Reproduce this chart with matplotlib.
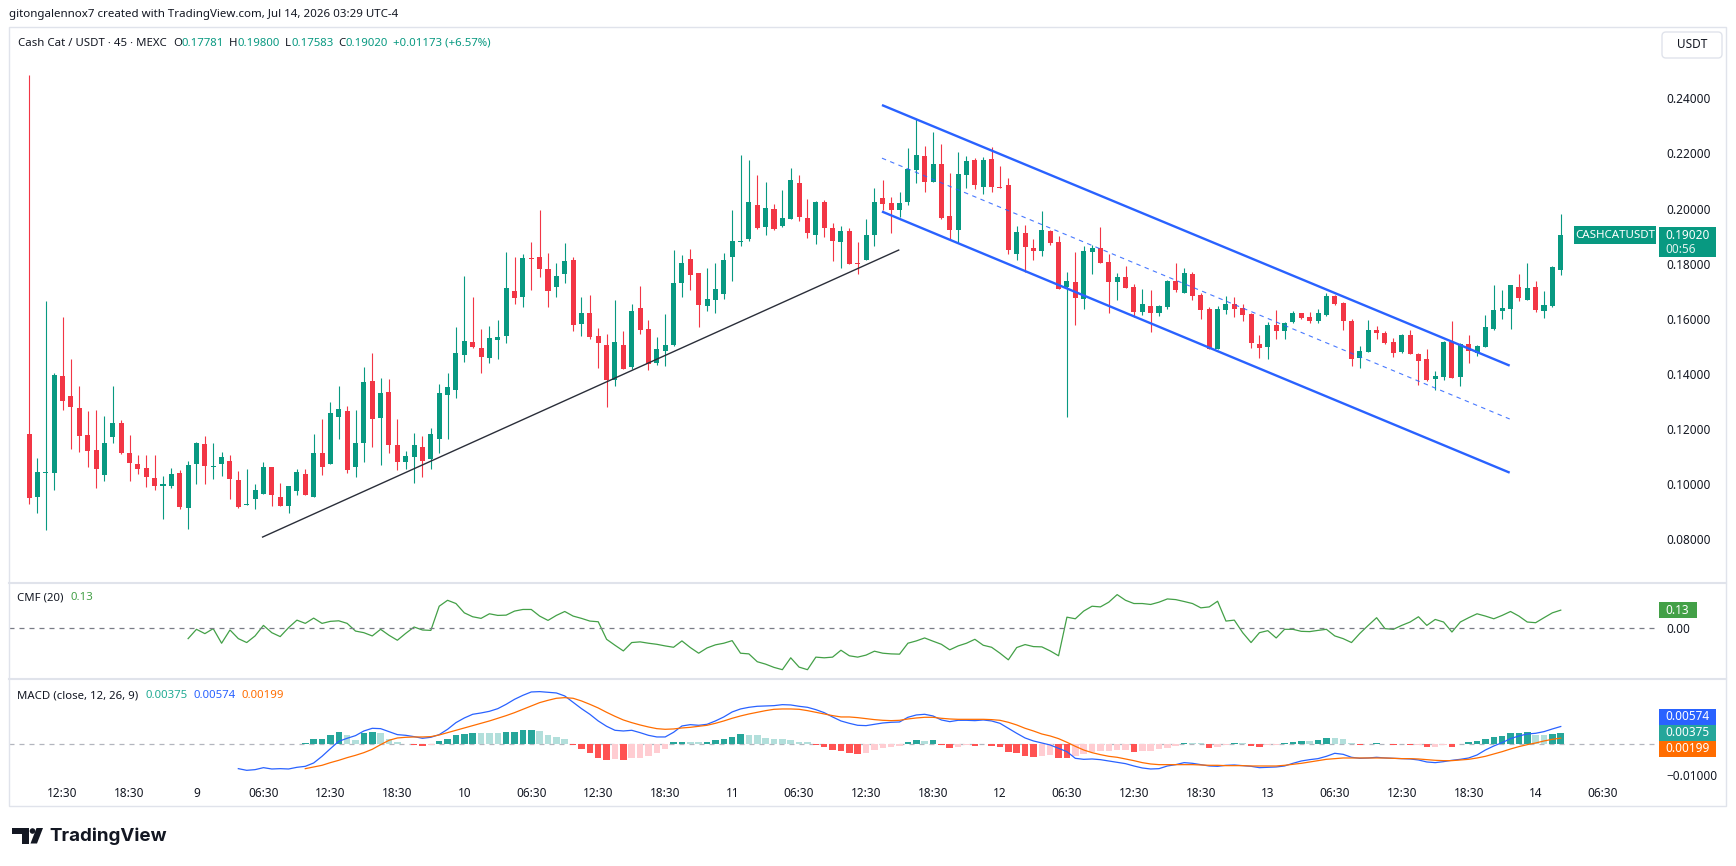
import matplotlib
matplotlib.use('Agg')
import matplotlib.pyplot as plt
import matplotlib.transforms as mtransforms
from matplotlib.patches import Rectangle, Circle, Polygon, FancyBboxPatch
from matplotlib.lines import Line2D
import numpy as np

plt.rcParams['font.family'] = ['Noto Sans', 'DejaVu Sans']

# ---- dados das velas (45 min), indice 0..183 ----
opens = [
    0.1181, 0.0953, 0.1039, 0.1040, 0.1392, 0.1319, 0.1275, 0.1177, 0.1123, 0.1032,
    0.1168, 0.1220, 0.1110, 0.1072, 0.1057, 0.1021, 0.0992, 0.0993, 0.1039, 0.0913,
    0.1073, 0.1144, 0.1061, 0.1073, 0.1083, 0.1014, 0.0921, 0.0946, 0.0964, 0.1061,
    0.0952, 0.0920, 0.0975, 0.1035, 0.0953, 0.1112, 0.1073, 0.1244, 0.1264, 0.1062,
    0.1146, 0.1373, 0.1240, 0.1333, 0.1141, 0.1077, 0.1098, 0.1133, 0.1091, 0.1164,
    0.1322, 0.1342, 0.1468, 0.1515, 0.1492, 0.1457, 0.1523, 0.1538, 0.1700, 0.1680,
    0.1821, 0.1824, 0.1780, 0.1716, 0.1763, 0.1813, 0.1582, 0.1620, 0.1537, 0.1504,
    0.1378, 0.1504, 0.1424, 0.1638, 0.1562, 0.1440, 0.1482, 0.1504, 0.1730, 0.1817,
    0.1766, 0.1647, 0.1669, 0.1691, 0.1825, 0.1880, 0.1890, 0.2013, 0.1934, 0.1998,
    0.1938, 0.1963, 0.2093, 0.1966, 0.1905, 0.2024, 0.1929, 0.1879, 0.1918, 0.1802,
    0.1814, 0.1905, 0.2037, 0.2019, 0.1995, 0.2025, 0.2140, 0.2191, 0.2098, 0.2162,
    0.1973, 0.1923, 0.2122, 0.2176, 0.2079, 0.2179, 0.2078, 0.2086, 0.1835, 0.1911,
    0.1856, 0.1846, 0.1918, 0.1878, 0.1713, 0.1733, 0.1671, 0.1843, 0.1857, 0.1806,
    0.1734, 0.1751, 0.1715, 0.1625, 0.1646, 0.1621, 0.1642, 0.1737, 0.1694, 0.1763,
    0.1686, 0.1635, 0.1491, 0.1631, 0.1653, 0.1638, 0.1618, 0.1507, 0.1498, 0.1577,
    0.1556, 0.1589, 0.1619, 0.1606, 0.1591, 0.1613, 0.1681, 0.1657, 0.1591, 0.1458,
    0.1480, 0.1558, 0.1549, 0.1515, 0.1477, 0.1540, 0.1471, 0.1453, 0.1380, 0.1389,
    0.1516, 0.1389, 0.1508, 0.1474, 0.1498, 0.1562, 0.1629, 0.1636, 0.1715, 0.1667,
    0.1715, 0.1629, 0.1646, 0.17781]
highs = [
    0.2486, 0.1095, 0.1664, 0.1404, 0.1604, 0.1453, 0.1355, 0.1264, 0.1268, 0.1246,
    0.1355, 0.1232, 0.1177, 0.1104, 0.1104, 0.1104, 0.1028, 0.1056, 0.1050, 0.1083,
    0.1153, 0.1173, 0.1149, 0.1114, 0.1104, 0.1046, 0.1054, 0.0999, 0.1077, 0.1061,
    0.1001, 0.0993, 0.1054, 0.1054, 0.1181, 0.1235, 0.1298, 0.1355, 0.1283, 0.1268,
    0.1424, 0.1475, 0.1384, 0.1381, 0.1235, 0.1119, 0.1183, 0.1173, 0.1203, 0.1362,
    0.1401, 0.1569, 0.1755, 0.1678, 0.1561, 0.1573, 0.1595, 0.1842, 0.1824, 0.1835,
    0.1878, 0.1995, 0.1837, 0.1801, 0.1875, 0.1825, 0.1678, 0.1686, 0.1565, 0.1544,
    0.1666, 0.1555, 0.1653, 0.1718, 0.1595, 0.1533, 0.1617, 0.1849, 0.1831, 0.1853,
    0.1766, 0.1784, 0.1802, 0.1838, 0.1995, 0.2195, 0.2176, 0.2122, 0.2097, 0.2017,
    0.2067, 0.2147, 0.2122, 0.2035, 0.2027, 0.2031, 0.1947, 0.1936, 0.1929, 0.1878,
    0.1962, 0.2075, 0.2104, 0.2041, 0.2059, 0.2219, 0.2324, 0.2227, 0.2278, 0.2235,
    0.2128, 0.2205, 0.2191, 0.2182, 0.2189, 0.2222, 0.2155, 0.2110, 0.1936, 0.1939,
    0.1889, 0.1991, 0.1921, 0.1900, 0.1769, 0.1842, 0.1865, 0.1867, 0.1933, 0.1835,
    0.1766, 0.1791, 0.1726, 0.1707, 0.1704, 0.1649, 0.1740, 0.1802, 0.1784, 0.1769,
    0.1692, 0.1641, 0.1644, 0.1682, 0.1678, 0.1654, 0.1620, 0.1540, 0.1587, 0.1631,
    0.1589, 0.1627, 0.1621, 0.1624, 0.1635, 0.1693, 0.1687, 0.1661, 0.1598, 0.1500,
    0.1595, 0.1573, 0.1555, 0.1531, 0.1543, 0.1558, 0.1476, 0.1489, 0.1409, 0.1518,
    0.1591, 0.1510, 0.1540, 0.1503, 0.1613, 0.1722, 0.1704, 0.1722, 0.1762, 0.1802,
    0.1737, 0.1700, 0.1790, 0.19800]
lows = [
    0.0925, 0.0895, 0.0832, 0.0977, 0.1268, 0.1126, 0.1115, 0.1062, 0.0986, 0.1011,
    0.1149, 0.1108, 0.1011, 0.1035, 0.0987, 0.0977, 0.0872, 0.0986, 0.0907, 0.0837,
    0.0998, 0.0997, 0.1016, 0.1029, 0.0946, 0.0913, 0.0921, 0.0907, 0.0964, 0.0920,
    0.0920, 0.0892, 0.0958, 0.0958, 0.0953, 0.1033, 0.1073, 0.1164, 0.1040, 0.1026,
    0.1080, 0.1132, 0.1069, 0.1113, 0.1048, 0.1055, 0.1004, 0.1026, 0.1055, 0.1110,
    0.1164, 0.1313, 0.1443, 0.1494, 0.1403, 0.1440, 0.1453, 0.1513, 0.1654, 0.1643,
    0.1704, 0.1752, 0.1643, 0.1680, 0.1729, 0.1556, 0.1538, 0.1527, 0.1420, 0.1280,
    0.1356, 0.1418, 0.1418, 0.1545, 0.1414, 0.1432, 0.1429, 0.1502, 0.1680, 0.1705,
    0.1571, 0.1629, 0.1621, 0.1672, 0.1737, 0.1865, 0.1883, 0.1927, 0.1905, 0.1923,
    0.1931, 0.1963, 0.1956, 0.1894, 0.1872, 0.1898, 0.1810, 0.1785, 0.1800, 0.1763,
    0.1814, 0.1865, 0.1995, 0.1912, 0.1970, 0.2013, 0.2092, 0.2061, 0.2098, 0.1961,
    0.1888, 0.1874, 0.2076, 0.2070, 0.2053, 0.2061, 0.2075, 0.1835, 0.1813, 0.1771,
    0.1813, 0.1827, 0.1869, 0.1707, 0.1243, 0.1577, 0.1635, 0.1763, 0.1803, 0.1620,
    0.1667, 0.1712, 0.1605, 0.1613, 0.1551, 0.1609, 0.1635, 0.1697, 0.1694, 0.1667,
    0.1598, 0.1491, 0.1491, 0.1617, 0.1606, 0.1591, 0.1493, 0.1458, 0.1453, 0.1524,
    0.1527, 0.1583, 0.1597, 0.1585, 0.1584, 0.1609, 0.1651, 0.1558, 0.1429, 0.1422,
    0.1480, 0.1527, 0.1509, 0.1462, 0.1474, 0.1470, 0.1358, 0.1373, 0.1340, 0.1377,
    0.1385, 0.1356, 0.1440, 0.1464, 0.1498, 0.1558, 0.1598, 0.1562, 0.1665, 0.1667,
    0.1625, 0.1602, 0.1643, 0.17583]
closes = [
    0.0949, 0.1041, 0.1044, 0.1395, 0.1302, 0.1280, 0.1175, 0.1120, 0.1055, 0.1147,
    0.1220, 0.1110, 0.1074, 0.1055, 0.1026, 0.0993, 0.0997, 0.1035, 0.0917, 0.1068,
    0.1148, 0.1066, 0.1066, 0.1097, 0.1016, 0.0917, 0.0926, 0.0977, 0.1061, 0.0957,
    0.0920, 0.0992, 0.1041, 0.0958, 0.1112, 0.1062, 0.1257, 0.1272, 0.1051, 0.1148,
    0.1370, 0.1234, 0.1330, 0.1142, 0.1077, 0.1101, 0.1141, 0.1084, 0.1181, 0.1330,
    0.1350, 0.1475, 0.1519, 0.1497, 0.1460, 0.1528, 0.1533, 0.1711, 0.1676, 0.1820,
    0.1818, 0.1781, 0.1701, 0.1755, 0.1809, 0.1578, 0.1620, 0.1533, 0.1512, 0.1378,
    0.1515, 0.1418, 0.1628, 0.1560, 0.1436, 0.1489, 0.1504, 0.1729, 0.1802, 0.1760,
    0.1651, 0.1671, 0.1708, 0.1813, 0.1882, 0.1882, 0.2024, 0.1929, 0.2002, 0.1927,
    0.1966, 0.2104, 0.1969, 0.1912, 0.2024, 0.1930, 0.1883, 0.1918, 0.1800, 0.1800,
    0.1904, 0.2024, 0.2016, 0.1995, 0.2019, 0.2144, 0.2195, 0.2098, 0.2162, 0.1967,
    0.1922, 0.2126, 0.2173, 0.2086, 0.2176, 0.2077, 0.2075, 0.1849, 0.1915, 0.1860,
    0.1847, 0.1922, 0.1876, 0.1707, 0.1737, 0.1676, 0.1846, 0.1857, 0.1803, 0.1734,
    0.1751, 0.1712, 0.1625, 0.1653, 0.1621, 0.1646, 0.1737, 0.1704, 0.1766, 0.1683,
    0.1632, 0.1491, 0.1635, 0.1653, 0.1635, 0.1614, 0.1512, 0.1494, 0.1577, 0.1556,
    0.1584, 0.1619, 0.1601, 0.1591, 0.1620, 0.1683, 0.1654, 0.1592, 0.1454, 0.1482,
    0.1558, 0.1549, 0.1511, 0.1476, 0.1540, 0.1470, 0.1447, 0.1377, 0.1391, 0.1515,
    0.1385, 0.1508, 0.1483, 0.1500, 0.1569, 0.1631, 0.1638, 0.1722, 0.1676, 0.1711,
    0.1631, 0.1649, 0.1787, 0.19020]

# ---- CMF (20), comeca na vela 19 ----
cmf_start = 19
cmf = [
    -0.081, -0.012, -0.044, -0.007, -0.115, -0.017, -0.081, -0.110, -0.061, 0.017,
    -0.037, -0.066, 0.000, 0.056, 0.032, 0.071, 0.032, 0.047, 0.051, 0.032,
    -0.025, -0.037, -0.061, -0.012, -0.056, -0.093, -0.042, 0.005, -0.017, -0.020,
    0.159, 0.203, 0.179, 0.110, 0.081, 0.069, 0.103, 0.091, 0.093, 0.123,
    0.135, 0.135, 0.086, 0.054, 0.091, 0.120, 0.086, 0.069, 0.049, 0.044,
    -0.086, -0.130, -0.172, -0.110, -0.105, -0.115, -0.123, -0.135, -0.145, -0.098,
    -0.147, -0.189, -0.150, -0.127, -0.115, -0.096, -0.189, -0.194, -0.252, -0.270,
    -0.294, -0.311, -0.223, -0.292, -0.311, -0.218, -0.223, -0.218, -0.167, -0.208,
    -0.218, -0.203, -0.174, -0.189, -0.194, -0.196, -0.115, -0.098, -0.076, -0.100,
    -0.123, -0.164, -0.135, -0.115, -0.086, -0.130, -0.145, -0.189, -0.238, -0.147,
    -0.125, -0.140, -0.142, -0.172, -0.208, 0.078, 0.066, 0.123, 0.159, 0.154,
    0.189, 0.245, 0.203, 0.179, 0.179, 0.172, 0.189, 0.213, 0.208, 0.194,
    0.179, 0.147, 0.154, 0.196, 0.049, 0.056, -0.037, -0.110, -0.037, -0.022,
    -0.076, -0.012, -0.012, -0.027, -0.029, -0.020, -0.012, -0.061, -0.081, -0.110,
    -0.042, 0.017, 0.074, -0.007, -0.012, 0.017, 0.042, 0.081, 0.017, 0.061,
    0.042, -0.032, 0.042, 0.074, 0.103, 0.086, 0.066, 0.091, 0.120, 0.086,
    0.042, 0.037, 0.074, 0.110, 0.130]

# ---- MACD (close, 12, 26, 9) ----
macd_start = 25
macd_line = [
    -0.00785, -0.00839, -0.00817, -0.00753, -0.00796, -0.00785, -0.00796, -0.00742, -0.00710, -0.00602,
    -0.00387, -0.00140, 0.00097, 0.00194, 0.00280, 0.00430, 0.00516, 0.00505, 0.00409, 0.00312,
    0.00290, 0.00247, 0.00194, 0.00226, 0.00312, 0.00484, 0.00699, 0.00849, 0.00968, 0.01011,
    0.01064, 0.01150, 0.01290, 0.01451, 0.01580, 0.01688, 0.01699, 0.01677, 0.01656, 0.01559,
    0.01355, 0.01150, 0.00968, 0.00753, 0.00581, 0.00452, 0.00430, 0.00452, 0.00376, 0.00290,
    0.00237, 0.00237, 0.00387, 0.00591, 0.00634, 0.00613, 0.00645, 0.00753, 0.00882, 0.01043,
    0.01140, 0.01193, 0.01226, 0.01236, 0.01247, 0.01279, 0.01269, 0.01226, 0.01193, 0.01118,
    0.01021, 0.00882, 0.00753, 0.00677, 0.00613, 0.00602, 0.00645, 0.00688, 0.00710, 0.00720,
    0.00871, 0.00946, 0.00968, 0.00914, 0.00785, 0.00731, 0.00774, 0.00774, 0.00763, 0.00785,
    0.00753, 0.00677, 0.00516, 0.00355, 0.00204, 0.00108, 0.00043, -0.00022, -0.00129, -0.00237,
    -0.00452, -0.00484, -0.00473, -0.00495, -0.00538, -0.00581, -0.00624, -0.00699, -0.00763, -0.00796,
    -0.00785, -0.00699, -0.00656, -0.00591, -0.00613, -0.00656, -0.00699, -0.00710, -0.00677, -0.00667,
    -0.00688, -0.00710, -0.00753, -0.00742, -0.00731, -0.00699, -0.00613, -0.00538, -0.00495, -0.00462,
    -0.00387, -0.00290, -0.00323, -0.00419, -0.00452, -0.00441, -0.00419, -0.00441, -0.00452, -0.00462,
    -0.00473, -0.00505, -0.00570, -0.00591, -0.00559, -0.00516, -0.00484, -0.00441, -0.00344, -0.00183,
    -0.00054, 0.00054, 0.00183, 0.00269, 0.00333, 0.00355, 0.00409, 0.00495, 0.00574]
signal_start = 33
signal_line = [
    -0.00785, -0.00731, -0.00677, -0.00591, -0.00516, -0.00430, -0.00355, -0.00269, -0.00161, -0.00011,
    0.00129, 0.00204, 0.00226, 0.00237, 0.00237, 0.00247, 0.00301, 0.00376, 0.00452, 0.00527,
    0.00602, 0.00677, 0.00753, 0.00839, 0.00925, 0.01021, 0.01129, 0.01236, 0.01344, 0.01419,
    0.01484, 0.01505, 0.01484, 0.01398, 0.01290, 0.01172, 0.01032, 0.00903, 0.00785, 0.00699,
    0.00624, 0.00559, 0.00505, 0.00484, 0.00495, 0.00527, 0.00548, 0.00581, 0.00613, 0.00677,
    0.00753, 0.00839, 0.00914, 0.00978, 0.01032, 0.01086, 0.01129, 0.01140, 0.01140, 0.01129,
    0.01086, 0.01032, 0.00978, 0.00925, 0.00882, 0.00882, 0.00860, 0.00828, 0.00796, 0.00774,
    0.00763, 0.00774, 0.00817, 0.00849, 0.00871, 0.00871, 0.00839, 0.00817, 0.00806, 0.00806,
    0.00806, 0.00806, 0.00796, 0.00774, 0.00710, 0.00624, 0.00516, 0.00430, 0.00333, 0.00269,
    0.00183, 0.00065, -0.00065, -0.00183, -0.00269, -0.00333, -0.00387, -0.00419, -0.00473, -0.00527,
    -0.00591, -0.00634, -0.00656, -0.00656, -0.00656, -0.00656, -0.00656, -0.00667, -0.00677, -0.00677,
    -0.00688, -0.00688, -0.00688, -0.00699, -0.00699, -0.00699, -0.00699, -0.00677, -0.00645, -0.00613,
    -0.00570, -0.00527, -0.00484, -0.00462, -0.00441, -0.00441, -0.00441, -0.00441, -0.00441, -0.00441,
    -0.00452, -0.00462, -0.00462, -0.00473, -0.00495, -0.00516, -0.00527, -0.00527, -0.00505, -0.00484,
    -0.00441, -0.00387, -0.00312, -0.00237, -0.00151, -0.00075, -0.00011, 0.00043, 0.00108, 0.00161,
    0.00199]
hist_start = 33
macd_hist = [
    0.00043, 0.00161, 0.00170, 0.00312, 0.00398, 0.00312, 0.00151, 0.00376, 0.00386, 0.00366,
    0.00183, 0.00075, 0.00022, -0.00022, -0.00065, -0.00011, 0.00108, 0.00161, 0.00290, 0.00344,
    0.00376, 0.00366, 0.00366, 0.00366, 0.00398, 0.00408, 0.00452, 0.00462, 0.00430, 0.00290,
    0.00237, 0.00183, -0.00011, -0.00140, -0.00280, -0.00430, -0.00516, -0.00462, -0.00516, -0.00430,
    -0.00430, -0.00387, -0.00280, -0.00161, 0.00086, 0.00090, 0.00075, 0.00070, 0.00086, 0.00129,
    0.00183, 0.00237, 0.00323, 0.00290, 0.00290, 0.00215, 0.00183, 0.00183, 0.00129, 0.00075,
    0.00075, -0.00032, -0.00086, -0.00172, -0.00215, -0.00290, -0.00323, -0.00269, -0.00183, -0.00129,
    -0.00075, -0.00054, 0.00086, 0.00140, 0.00108, 0.00140, -0.00022, -0.00129, -0.00075, -0.00032,
    -0.00043, 0.00022, -0.00043, -0.00075, -0.00258, -0.00290, -0.00376, -0.00398, -0.00376, -0.00344,
    -0.00430, -0.00452, -0.00366, -0.00312, -0.00237, -0.00215, -0.00215, -0.00183, -0.00183, -0.00237,
    -0.00204, -0.00204, -0.00151, -0.00108, -0.00054, 0.00043, 0.00043, 0.00032, -0.00108, -0.00075,
    -0.00032, 0.00043, 0.00043, -0.00054, -0.00075, -0.00032, -0.00011, 0.00032, 0.00065, 0.00108,
    0.00108, 0.00140, 0.00194, 0.00194, 0.00161, 0.00032, -0.00022, 0.00022, 0.00043, 0.00011,
    -0.00022, 0.00011, -0.00022, -0.00022, -0.00097, -0.00097, -0.00032, -0.00075, 0.00022, 0.00086,
    0.00108, 0.00172, 0.00247, 0.00280, 0.00366, 0.00376, 0.00387, 0.00301, 0.00301, 0.00323,
    0.00375]

# ---- desenhos (linha de tendencia e canal) ----
trend_x = [27.9, 103.9]
trend_y = [0.0806, 0.1849]
channel_x = [101.9, 176.9]
channel_upper = [0.2376, 0.1429]
channel_mid = [0.2183, 0.1235]
channel_lower = [0.1989, 0.1040]

# ---- eixo de tempo ----
time_ticks = list(range(4, 189, 8))
time_labels = ['12:30', '18:30', '9', '06:30', '12:30', '18:30', '10', '06:30',
               '12:30', '18:30', '11', '06:30', '12:30', '18:30', '12', '06:30',
               '12:30', '18:30', '13', '06:30', '12:30', '18:30', '14', '06:30']
price_ticks = [0.08, 0.10, 0.12, 0.14, 0.16, 0.18, 0.20, 0.22, 0.24]

assert len(opens) == len(highs) == len(lows) == len(closes) == 184
assert len(signal_line) == len(macd_hist) == 151 and len(macd_line) == 159 and len(cmf) == 165

GREEN, RED = '#089981', '#f23645'
TXT = '#131722'
W, H = 1736, 866

fig = plt.figure(figsize=(W / 100, H / 100), dpi=100)
fig.patch.set_facecolor('white')
PX = mtransforms.Affine2D().scale(1, -1).translate(0, H)   # pixels, y para baixo


def pane(top, bottom, left=9, right=1657):
    a = fig.add_axes([left / W, 1 - bottom / H, (right - left) / W, (bottom - top) / H])
    for s in a.spines.values():
        s.set_visible(False)
    a.patch.set_visible(False)
    a.set_xlim(-2.4, 194.5)
    a.yaxis.tick_right()
    a.tick_params(axis='y', length=0, pad=6.5, labelsize=8.5, labelcolor=TXT)
    a.tick_params(axis='x', length=0, bottom=False, labelbottom=False)
    return a


ax = pane(28, 583)
ax_cmf = pane(583, 679)
ax_macd = pane(679, 780)

# velas
o, h, l, c = map(np.array, (opens, highs, lows, closes))
x = np.arange(len(o))
cols = np.where(c >= o, GREEN, RED)
ax.vlines(x, l, h, colors=cols, lw=0.8, zorder=2)
ax.bar(x, np.maximum(np.abs(c - o), 0.00035), bottom=np.minimum(o, c), width=0.6,
       color=cols, linewidth=0, zorder=3)
ax.set_ylim(0.0639, 0.2656)
ax.set_yticks(price_ticks)
ax.set_yticklabels([f'{v:.5f}' for v in price_ticks])

ax.plot(trend_x, trend_y, color='#2a2e39', lw=1.0, zorder=4)
ax.plot(channel_x, channel_upper, color='#2962ff', lw=1.7, zorder=4, solid_capstyle='butt')
ax.plot(channel_x, channel_lower, color='#2962ff', lw=1.7, zorder=4, solid_capstyle='butt')
ax.plot(channel_x, channel_mid, color='#2962ff', lw=0.8, alpha=0.85, ls=(0, (4, 4)), zorder=4)

# CMF
ax_cmf.plot(np.arange(cmf_start, cmf_start + len(cmf)), cmf, color='#43a047', lw=0.9)
ax_cmf.axhline(0, color='#787b86', lw=0.9, ls=(0, (4, 4)))
ax_cmf.set_ylim(-0.380, 0.331)
ax_cmf.set_yticks([0.0])
ax_cmf.set_yticklabels(['0.00'])

# MACD
hv = np.array(macd_hist)
prev = np.concatenate([[0.0], hv[:-1]])
hcols = []
for v, p in zip(hv, prev):
    if v >= 0:
        hcols.append('#26a69a' if v > p else '#b2dfdb')
    else:
        hcols.append('#ff5252' if v < p else '#ffcdd2')
ax_macd.axhline(0, color='#b2b5be', lw=0.9, ls=(0, (4, 4)), zorder=1)
ax_macd.bar(np.arange(hist_start, hist_start + len(hv)), hv, width=0.78, color=hcols,
            linewidth=0, zorder=2)
ax_macd.plot(np.arange(macd_start, macd_start + len(macd_line)), macd_line,
             color='#2962ff', lw=0.9, zorder=3)
ax_macd.plot(np.arange(signal_start, signal_start + len(signal_line)), signal_line,
             color='#ff6d00', lw=0.9, zorder=3)
ax_macd.set_ylim(-0.01151, 0.02106)
ax_macd.set_yticks([-0.01])
ax_macd.set_yticklabels(['\u22120.01000'])
ax_macd.set_xticks(time_ticks)
ax_macd.set_xticklabels(time_labels)
ax_macd.tick_params(axis='x', labelbottom=True, pad=5, labelsize=8.5, labelcolor=TXT)

# moldura e separadores
fig.add_artist(Rectangle((9, 27), 1717, 779, transform=PX, facecolor='none',
                         edgecolor='#e0e3eb', lw=1.0, zorder=1))
for yy in (583, 679):
    fig.add_artist(Line2D([9, 1726], [yy, yy], transform=PX, color='#e0e3eb', lw=1.5))


def ypix(a, v):
    return H - a.transData.transform((0, v))[1]


def box(x0, y0, x1, y1, face, edge='none', z=6):
    fig.add_artist(Rectangle((x0, y0), x1 - x0, y1 - y0, transform=PX, facecolor=face,
                             edgecolor=edge, lw=1, zorder=z))


def label(xx, yy, s, color='white', size=8.5, weight='normal', ha='left'):
    return fig.text(xx, yy, s, transform=PX, color=color, fontsize=size, fontweight=weight,
                    va='center', ha=ha, zorder=7)


# etiquetas do eixo de preco
cy = ypix(ax, closes[-1])
box(1574, cy - 9, 1656, cy + 9, GREEN)
label(1615, cy, 'CASHCATUSDT', size=8.3, weight='bold', ha='center')
box(1659, cy - 8, 1716, cy + 22, GREEN)
label(1665, cy, f'{closes[-1]:.5f}', weight='bold')
label(1665, cy + 14, '00:56', color='#e0f2ef')

cy = ypix(ax_cmf, cmf[-1])
box(1659, cy - 8, 1697, cy + 8, '#43a047')
label(1665, cy, f'{cmf[-1]:.2f}', weight='bold')

cy = ypix(ax_macd, macd_hist[-1])
for dy, val, face in ((-16, macd_line[-1], '#2962ff'), (0, macd_hist[-1], '#26a69a'),
                      (16, signal_line[-1], '#ff6d00')):
    box(1659, cy + dy - 8, 1716, cy + dy + 8, face)
    label(1665, cy + dy, f'{val:.5f}', weight='bold')

# botao USDT
fig.add_artist(FancyBboxPatch((1662, 32), 60, 26, boxstyle='round,pad=0,rounding_size=4',
                              transform=PX, facecolor='white', edgecolor='#e0e3eb', lw=1))
label(1692, 45, 'USDT', color=TXT, size=8.5, ha='center')

# textos do topo
renderer = fig.canvas.get_renderer()


def chain(xx, yy, parts, size=8.5):
    for s, col, gap in parts:
        t = label(xx, yy, s, color=col, size=size)
        xx += t.get_window_extent(renderer).width + gap


label(9, 15, 'gitongalennox7 created with TradingView.com, Jul 14, 2026 03:29 UTC-4',
      color=TXT, size=8.3)
chain(18, 43, [('Cash Cat / USDT \u00b7 45 \u00b7 MEXC', TXT, 6),
               ('O', TXT, 0), ('0.17781', GREEN, 5),
               ('H', TXT, 0), ('0.19800', GREEN, 5),
               ('L', TXT, 0), ('0.17583', GREEN, 5),
               ('C', TXT, 0), ('0.19020', GREEN, 5),
               ('+0.01173 (+6.57%)', GREEN, 0)], size=8.2)
chain(17, 598, [('CMF (20)', TXT, 7), ('0.13', '#43a047', 0)], size=8.2)
chain(17, 696, [('MACD (close, 12, 26, 9)', TXT, 7), ('0.00375', '#22ab94', 6),
                ('0.00574', '#2962ff', 6), ('0.00199', '#ff6d00', 0)], size=8.2)

# logo TradingView
fig.add_artist(Rectangle((12, 828), 16.5, 5.5, transform=PX, facecolor=TXT, lw=0))
fig.add_artist(Rectangle((21.5, 828), 7, 15.5, transform=PX, facecolor=TXT, lw=0))
fig.add_artist(Circle((32.5, 831), 2.8, transform=PX, facecolor=TXT, lw=0))
fig.add_artist(Polygon([(30.5, 843.5), (37, 843.5), (43, 828), (36.5, 828)], closed=True,
                       transform=PX, facecolor=TXT, lw=0))
fig.text(49, 836, 'TradingView', transform=PX, color=TXT, fontsize=13.5, fontweight='bold',
         family=['Inter', 'DejaVu Sans'], va='center', ha='left')

fig.savefig('out.png', dpi=100, facecolor='white')
